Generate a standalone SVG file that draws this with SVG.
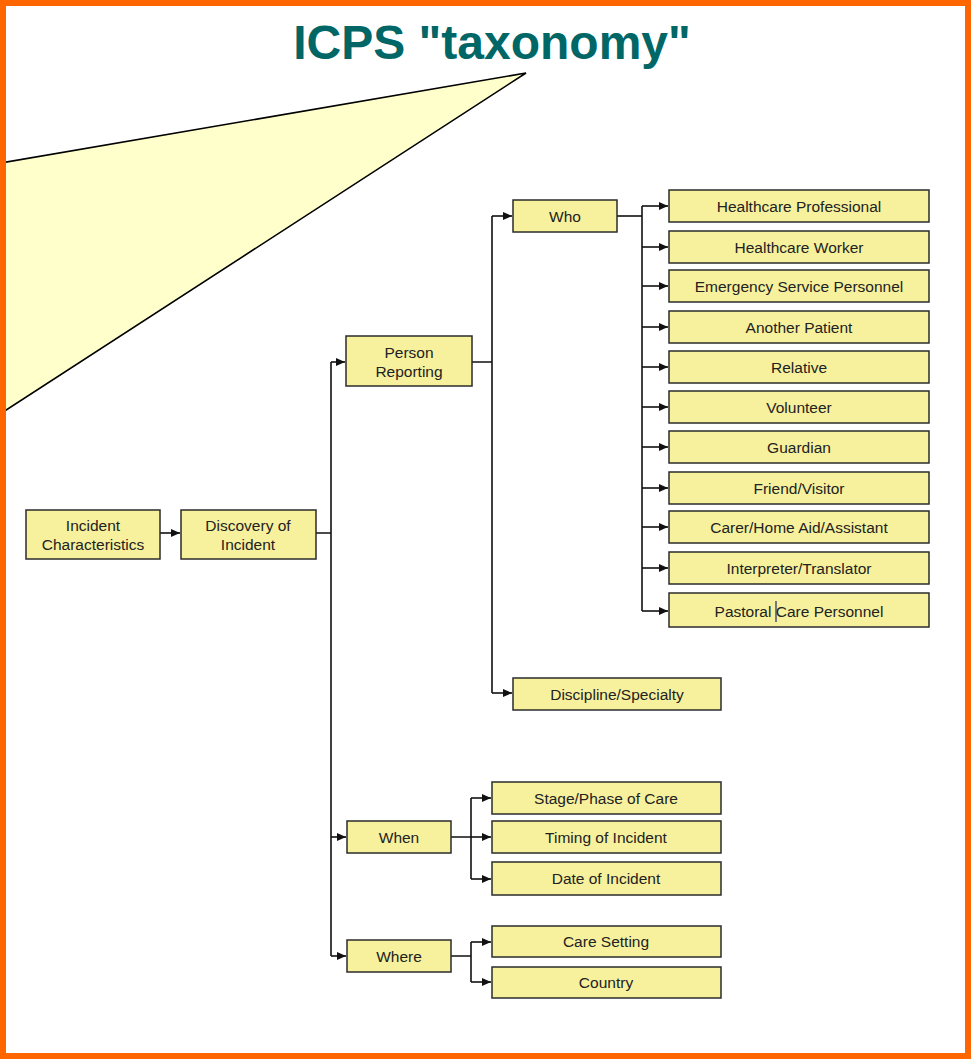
<svg xmlns="http://www.w3.org/2000/svg" width="971" height="1059" viewBox="0 0 971 1059">
  <style>
    .node rect { fill: #F7F19D; stroke: #2b2b2b; stroke-width: 1.5; }
    .node text { font-family: "Liberation Sans", Arial, sans-serif; font-size: 15.5px; fill: #222; text-anchor: middle; }
    .wire { fill: none; stroke: #111; stroke-width: 1.6; marker-end: url(#arrow); }
    .line { fill: none; stroke: #111; stroke-width: 1.6; }
    .title { font-family: "Liberation Sans", Arial, sans-serif; font-size: 48px; font-weight: bold; fill: #006666; text-anchor: middle; }
  </style>
  <defs>
    <marker id="arrow" markerWidth="11" markerHeight="11" refX="10" refY="5.5" orient="auto" markerUnits="userSpaceOnUse">
      <path d="M1,1.5 L10,5.5 L1,9.5 Z" fill="#111"/>
    </marker>
  </defs>

  <rect x="0" y="0" width="971" height="1059" fill="#ffffff"/>

  <!-- title -->
  <text class="title" x="492" y="59">ICPS "taxonomy"</text>

  <!-- callout pointer towards the title -->
  <polygon points="526,73 -40,170 -40,440" fill="#FFFFCC" stroke="#000" stroke-width="1.6" stroke-linejoin="miter"/>

  <!-- connectors -->
  <g id="connectors">
    <path class="wire" d="M160,533 H180"/>
    <path class="line" d="M316,533 H331 M331,362 V956"/>
    <path class="wire" d="M331,362 H345"/>
    <path class="wire" d="M331,837 H346"/>
    <path class="wire" d="M331,956 H346"/>

    <path class="line" d="M472,362 H492 M492,216 V693"/>
    <path class="wire" d="M492,216 H512"/>
    <path class="wire" d="M492,693 H512"/>

    <path class="line" d="M617,216 H642" stroke-width="2.2"/>
    <path class="line" d="M642,206 V611" stroke-width="2.2"/>
    <path class="wire" d="M642,206 H668"/>
    <path class="wire" d="M642,247 H668"/>
    <path class="wire" d="M642,286 H668"/>
    <path class="wire" d="M642,327 H668"/>
    <path class="wire" d="M642,367 H668"/>
    <path class="wire" d="M642,407 H668"/>
    <path class="wire" d="M642,447 H668"/>
    <path class="wire" d="M642,488 H668"/>
    <path class="wire" d="M642,527 H668"/>
    <path class="wire" d="M642,568 H668"/>
    <path class="wire" d="M642,611 H668"/>

    <path class="line" d="M451,837 H471 M471,798 V879"/>
    <path class="wire" d="M471,798 H491"/>
    <path class="wire" d="M471,837 H491"/>
    <path class="wire" d="M471,879 H491"/>

    <path class="line" d="M451,956 H471 M471,942 V982"/>
    <path class="wire" d="M471,942 H491"/>
    <path class="wire" d="M471,982 H491"/>
  </g>

  <!-- nodes -->
  <g id="incident-characteristics" class="node">
    <rect x="26" y="510" width="134" height="49"/>
    <text x="93" y="531">Incident</text>
    <text x="93" y="550">Characteristics</text>
  </g>
  <g id="discovery-of-incident" class="node">
    <rect x="181" y="510" width="135" height="49"/>
    <text x="248" y="531">Discovery of</text>
    <text x="248" y="550">Incident</text>
  </g>
  <g id="person-reporting" class="node">
    <rect x="346" y="336" width="126" height="50"/>
    <text x="409" y="358">Person</text>
    <text x="409" y="377">Reporting</text>
  </g>
  <g id="who" class="node">
    <rect x="513" y="200" width="104" height="32"/>
    <text x="565" y="221.5">Who</text>
  </g>
  <g id="healthcare-professional" class="node">
    <rect x="669" y="190" width="260" height="32"/>
    <text x="799" y="211.5">Healthcare Professional</text>
  </g>
  <g id="healthcare-worker" class="node">
    <rect x="669" y="231" width="260" height="32"/>
    <text x="799" y="252.5">Healthcare Worker</text>
  </g>
  <g id="emergency-service-personnel" class="node">
    <rect x="669" y="270" width="260" height="32"/>
    <text x="799" y="292">Emergency Service Personnel</text>
  </g>
  <g id="another-patient" class="node">
    <rect x="669" y="311" width="260" height="32"/>
    <text x="799" y="332.5">Another Patient</text>
  </g>
  <g id="relative" class="node">
    <rect x="669" y="351" width="260" height="32"/>
    <text x="799" y="372.5">Relative</text>
  </g>
  <g id="volunteer" class="node">
    <rect x="669" y="391" width="260" height="32"/>
    <text x="799" y="412.5">Volunteer</text>
  </g>
  <g id="guardian" class="node">
    <rect x="669" y="431" width="260" height="32"/>
    <text x="799" y="452.5">Guardian</text>
  </g>
  <g id="friend-visitor" class="node">
    <rect x="669" y="472" width="260" height="32"/>
    <text x="799" y="493.5">Friend/Visitor</text>
  </g>
  <g id="carer" class="node">
    <rect x="669" y="511" width="260" height="32"/>
    <text x="799" y="533">Carer/Home Aid/Assistant</text>
  </g>
  <g id="interpreter" class="node">
    <rect x="669" y="552" width="260" height="32"/>
    <text x="799" y="573.5">Interpreter/Translator</text>
  </g>
  <g id="pastoral-care" class="node">
    <rect x="669" y="593" width="260" height="34"/>
    <text x="799" y="616.5">Pastoral Care Personnel</text>
    <line x1="776" y1="601" x2="776" y2="622" stroke="#1c2a66" stroke-width="1.2"/>
  </g>
  <g id="discipline-specialty" class="node">
    <rect x="513" y="678" width="208" height="32"/>
    <text x="617" y="699.5">Discipline/Specialty</text>
  </g>
  <g id="when" class="node">
    <rect x="347" y="821" width="104" height="32"/>
    <text x="399" y="842.5">When</text>
  </g>
  <g id="stage-phase" class="node">
    <rect x="492" y="782" width="229" height="32"/>
    <text x="606" y="803.5">Stage/Phase of Care</text>
  </g>
  <g id="timing" class="node">
    <rect x="492" y="821" width="229" height="32"/>
    <text x="606" y="843">Timing of Incident</text>
  </g>
  <g id="date" class="node">
    <rect x="492" y="862" width="229" height="33"/>
    <text x="606" y="884">Date of Incident</text>
  </g>
  <g id="where" class="node">
    <rect x="347" y="940" width="104" height="32"/>
    <text x="399" y="962">Where</text>
  </g>
  <g id="care-setting" class="node">
    <rect x="492" y="926" width="229" height="31"/>
    <text x="606" y="947">Care Setting</text>
  </g>
  <g id="country" class="node">
    <rect x="492" y="967" width="229" height="31"/>
    <text x="606" y="988">Country</text>
  </g>

  <!-- slide frame -->
  <rect x="3" y="3" width="965" height="1053" fill="none" stroke="#FF6600" stroke-width="6"/>
</svg>
